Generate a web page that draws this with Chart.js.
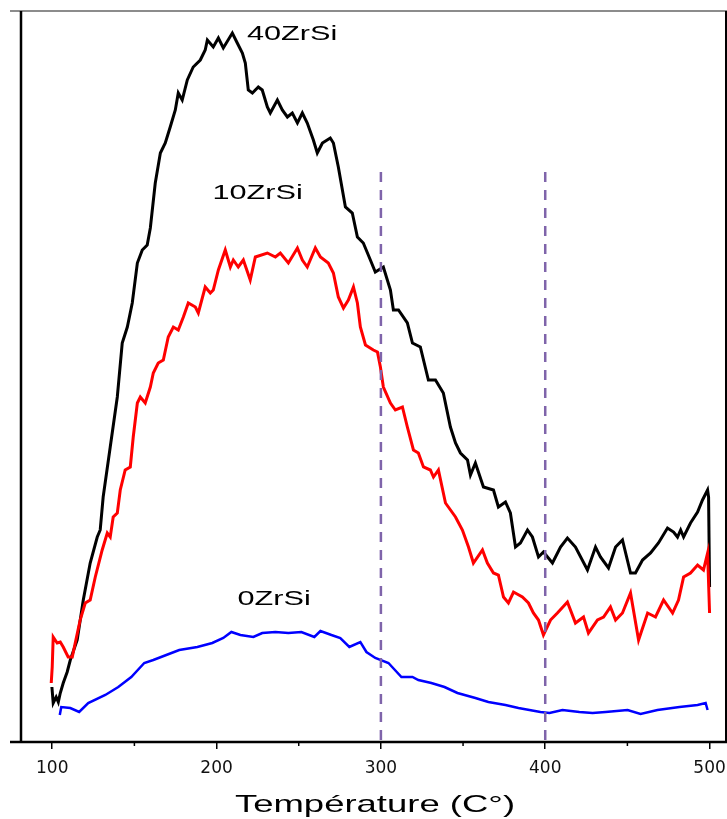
<!DOCTYPE html>
<html>
<head>
<meta charset="utf-8">
<script src="https://cdn.jsdelivr.net/npm/chart.js@4/dist/chart.umd.min.js"></script>
<style>
  html, body { margin: 0; padding: 0; background: #fff; }
  canvas { display: block; }
</style>
</head>
<body>
<canvas id="tpd" width="727" height="819"></canvas>
<script>
// Temperature (°C) and signal (a.u.) for each sample
const temp40 = [99.8,100.6,102.4,103.7,104.9,106.7,109.1,111.0,115.2,118.9,
  123.1,127.4,129.2,131.0,135.3,139.6,142.6,145.7,148.7,151.8,
  154.8,157.8,159.7,162.7,165.8,168.8,171.8,174.9,176.7,179.1,
  182.2,185.8,190.1,193.1,194.4,198.0,201.1,204.1,209.6,212.6,
  215.7,217.5,219.3,221.8,225.4,227.8,230.9,232.7,237.0,240.0,
  243.1,246.1,249.2,252.2,255.2,258.9,261.3,264.4,269.2,271.1,
  274.1,278.4,282.6,285.7,289.3,293.6,296.6,301.5,305.8,307.6,
  310.7,316.1,319.2,324.0,328.9,333.2,338.0,342.3,345.4,348.4,
  352.7,354.5,357.5,362.4,368.5,371.5,375.8,378.8,381.9,384.9,
  389.2,392.2,395.9,398.9,404.4,409.3,413.5,418.4,425.7,430.6,
  433.6,438.5,442.8,447.0,451.9,454.9,459.2,464.1,468.9,474.4,
  478.1,480.5,482.4,484.2,488.4,492.7,495.7,498.8,499.4,500.0];
const signal40 = [55,39,45,40,49,59,70,82,102,142,
  179,205,212,245,295,345,399,415,439,479,
  492,497,514,559,589,599,615,632,649,642,
  662,675,682,692,702,695,704,694,709,699,
  689,679,652,649,655,652,635,629,642,632,
  625,629,619,629,619,602,589,599,604,599,
  575,535,529,505,499,482,470,475,452,432,
  432,419,399,395,362,362,349,315,299,289,
  282,267,279,255,252,235,240,229,195,199,
  212,205,185,190,179,195,204,195,172,195,
  185,174,195,202,169,169,182,189,199,214,
  210,205,212,205,219,230,242,252,245,155];

const temp10 = [99.4,100.0,100.6,103.0,104.9,106.7,109.7,112.2,114.0,117.0,
  120.1,123.1,126.2,130.4,133.5,135.3,137.1,139.6,141.4,144.4,
  147.5,149.3,151.8,153.6,156.6,159.7,161.5,164.5,167.6,170.6,
  173.7,176.7,179.8,182.8,187.1,188.9,193.1,196.2,198.0,201.1,
  205.3,208.4,210.2,213.2,216.3,220.5,223.6,230.9,235.8,238.8,
  243.7,249.2,252.2,255.2,260.1,263.2,268.0,271.1,274.1,277.2,
  280.2,283.3,285.7,287.5,290.6,295.4,297.9,299.7,301.5,305.8,
  308.8,313.1,316.1,319.8,322.8,325.9,330.1,332.0,335.0,339.3,
  345.4,349.6,353.3,356.3,361.8,364.8,368.5,371.5,374.6,377.6,
  380.7,386.1,389.8,392.8,395.9,398.9,403.2,407.4,413.5,418.4,
  423.3,426.3,431.8,435.5,439.7,442.8,447.0,451.9,456.8,462.3,
  467.1,472.0,477.5,481.1,484.2,488.4,492.7,496.3,498.8,500.0];
const signal10 = [59,75,105,99,100,95,85,85,99,122,
  139,142,165,192,209,205,225,229,252,272,
  275,305,339,345,339,355,369,379,382,405,
  415,412,425,439,435,429,455,449,452,472,
  492,475,482,475,482,462,485,489,485,489,
  479,494,482,475,494,485,479,469,445,434,
  442,455,439,415,397,392,390,375,355,339,
  332,335,315,292,289,275,272,265,272,239,
  225,212,195,179,192,179,169,167,145,139,
  150,145,139,129,122,107,122,129,140,119,
  125,109,122,125,135,122,129,149,102,129,
  125,142,129,142,165,169,177,172,189,129];

const temp0 = [104.6,105.5,111.0,116.4,121.9,132.3,140.2,148.1,156.0,161.5,
  169.4,177.3,188.3,197.4,204.1,209.0,214.5,222.4,227.8,235.8,
  243.7,251.6,259.5,263.2,269.9,275.3,280.8,287.5,291.2,296.6,
  304.6,312.5,319.2,322.8,330.7,338.7,346.6,357.5,365.4,375.8,
  383.7,397.1,402.6,410.5,420.8,428.8,436.7,450.1,458.0,468.3,
  481.7,492.7,497.6,498.8];
const signal0 = [27,35,34,30,39,47,55,65,79,82,
  87,92,95,99,104,110,107,105,109,110,
  109,110,105,111,107,104,95,100,90,84,
  79,65,65,62,59,55,49,44,40,37,
  34,30,29,32,30,29,30,32,28,32,
  35,37,39,32];

// Reference temperatures marked by dashed lines, and their height
const markerTemps = [300, 400];
const markerTop = 570;

const xTicks = [100, 200, 300, 400, 500];
const xMinorTicks = [150, 250, 350, 450];

const toPoints = (t, s) => t.map((v, i) => ({ x: v, y: s[i] }));

const lineStyle = { showLine: true, pointRadius: 0, tension: 0, fill: false };

const datasets = [
  ...markerTemps.map(t => ({
    ...lineStyle,
    data: [{ x: t, y: markerTop }, { x: t, y: 0 }],
    borderColor: '#7f64aa', borderWidth: 2.5, borderDash: [10, 8]
  })),
  { ...lineStyle, label: '0ZrSi', data: toPoints(temp0, signal0), borderColor: '#0000ff', borderWidth: 2.5 },
  { ...lineStyle, label: '10ZrSi', data: toPoints(temp10, signal10), borderColor: '#ff0000', borderWidth: 3 },
  { ...lineStyle, label: '40ZrSi', data: toPoints(temp40, signal40), borderColor: '#000000', borderWidth: 3 }
];

// Sample names written next to their curves: [text, temperature, signal]
const curveLabels = [
  ['40ZrSi', 246, 702],
  ['10ZrSi', 225, 543],
  ['0ZrSi', 235, 137]
];

function stretchedText(ctx, text, cx, baseline, font, sx) {
  ctx.save();
  ctx.font = font;
  ctx.textAlign = 'center';
  ctx.textBaseline = 'alphabetic';
  ctx.translate(cx, baseline);
  ctx.scale(sx, 1);
  ctx.fillText(text, 0, 0);
  ctx.restore();
}

const framePlugin = {
  id: 'frame',
  afterDraw(chart) {
    const { ctx, chartArea: a, scales: { x, y } } = chart;
    ctx.save();
    // top edge
    ctx.strokeStyle = '#666';
    ctx.lineWidth = 1.5;
    ctx.beginPath(); ctx.moveTo(10, a.top); ctx.lineTo(chart.width, a.top); ctx.stroke();
    // left axis
    ctx.strokeStyle = '#000';
    ctx.lineWidth = 2.5;
    ctx.beginPath(); ctx.moveTo(a.left, a.top); ctx.lineTo(a.left, a.bottom); ctx.stroke();
    // right edge
    ctx.lineWidth = 2;
    ctx.beginPath(); ctx.moveTo(a.right, a.top); ctx.lineTo(a.right, a.bottom); ctx.stroke();
    // bottom axis
    ctx.lineWidth = 2.5;
    ctx.beginPath(); ctx.moveTo(10, a.bottom); ctx.lineTo(chart.width, a.bottom); ctx.stroke();
    // minor ticks
    ctx.lineWidth = 1.5;
    xMinorTicks.forEach(t => {
      const px = x.getPixelForValue(t);
      ctx.beginPath(); ctx.moveTo(px, a.bottom); ctx.lineTo(px, a.bottom + 4); ctx.stroke();
    });
    // curve names
    ctx.fillStyle = '#000';
    curveLabels.forEach(([txt, t, s]) => {
      stretchedText(ctx, txt, x.getPixelForValue(t), y.getPixelForValue(s), '21px "Liberation Sans", Arial, sans-serif', 1.46);
    });
    // axis title
    stretchedText(ctx, 'Température (C°)', 375, 812, '24px "Liberation Sans", Arial, sans-serif', 1.52);
    ctx.restore();
  }
};

new Chart(document.getElementById('tpd'), {
  type: 'scatter',
  data: { datasets },
  options: {
    responsive: false,
    animation: false,
    devicePixelRatio: 1,
    layout: { padding: { left: 21, right: 1, top: 11, bottom: 0 } },
    plugins: { legend: { display: false }, tooltip: { enabled: false } },
    scales: {
      x: {
        type: 'linear',
        min: 81,
        max: 510,
        afterBuildTicks: s => { s.ticks = xTicks.map(v => ({ value: v })); },
        afterFit: s => { s.height = 77; s.paddingLeft = 0; s.paddingRight = 0; },
        border: { display: false },
        grid: { drawOnChartArea: false, drawTicks: true, tickLength: 7, color: '#000', lineWidth: 1.5 },
        ticks: {
          padding: 9,
          color: '#111',
          font: { family: '"DejaVu Sans", sans-serif', size: 17 },
          maxRotation: 0,
          autoSkip: false
        }
      },
      y: {
        display: false,
        min: 0,
        max: 731
      }
    }
  },
  plugins: [framePlugin]
});
</script>
</body>
</html>
